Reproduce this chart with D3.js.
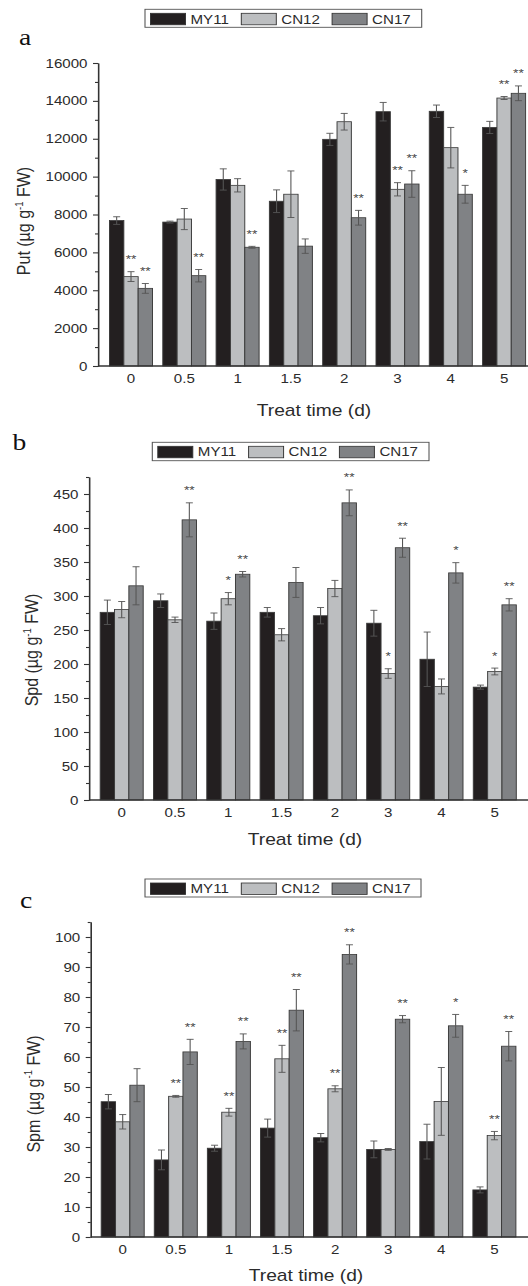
<!DOCTYPE html>
<html><head><meta charset="utf-8">
<script src="https://cdn.jsdelivr.net/npm/d3@7"></script>
<style>body{margin:0;background:#fff}svg{display:block}</style>
</head><body>
<svg id="chart" width="528" height="1286"></svg>
<script>
// ---------- data ----------
const categories = ["0", "0.5", "1", "1.5", "2", "3", "4", "5"];
const series = ["MY11", "CN12", "CN17"];

// Put (µg g-1 FW)
const putMY11 = [7680, 7600, 9850, 8700, 11970, 13430, 13450, 12600];
const putMY11Err = [200, 50, 560, 600, 320, 490, 330, 320];
const putCN12 = [4720, 7760, 9540, 9070, 12900, 9330, 11530, 14150];
const putCN12Err = [260, 560, 350, 1230, 440, 350, 1070, 80];
const putCN17 = [4100, 4770, 6270, 6330, 7830, 9610, 9070, 14400];
const putCN17Err = [260, 330, 50, 380, 390, 700, 470, 390];
const putCN12Sig = ["**", "", "", "", "", "**", "", "**"];
const putCN17Sig = ["**", "**", "**", "", "**", "**", "*", "**"];
const putTicks = [0, 2000, 4000, 6000, 8000, 10000, 12000, 14000, 16000];

// Spd (µg g-1 FW)
const spdMY11 = [276, 293, 263, 276, 271, 260, 207, 166];
const spdMY11Err = [18, 10, 12, 7, 12, 19, 40, 3];
const spdCN12 = [280, 265, 296, 243, 311, 186, 167, 189];
const spdCN12Err = [12, 4, 9, 9, 12, 7, 11, 5];
const spdCN17 = [315, 412, 332, 320, 437, 371, 334, 287];
const spdCN17Err = [28, 25, 4, 22, 19, 14, 15, 9];
const spdCN12Sig = ["", "", "*", "", "", "*", "", "*"];
const spdCN17Sig = ["", "**", "**", "", "**", "**", "*", "**"];
const spdTicks = [0, 50, 100, 150, 200, 250, 300, 350, 400, 450];

// Spm (µg g-1 FW)
const spmMY11 = [45.1, 25.7, 29.6, 36.3, 33.1, 29.2, 31.8, 15.7];
const spmMY11Err = [2.4, 3.3, 1.0, 3.0, 1.4, 2.8, 5.8, 1.0];
const spmCN12 = [38.4, 46.9, 41.6, 59.4, 49.4, 29.2, 45.2, 33.8];
const spmCN12Err = [2.4, 0.3, 1.3, 4.5, 1.0, 0.3, 11.3, 1.4];
const spmCN17 = [50.6, 61.7, 65.2, 75.6, 94.2, 72.6, 70.4, 63.6];
const spmCN17Err = [5.5, 4.2, 2.5, 6.9, 3.2, 1.2, 3.8, 4.9];
const spmCN12Sig = ["", "**", "**", "**", "**", "", "", "**"];
const spmCN17Sig = ["", "**", "**", "**", "**", "**", "*", "**"];
const spmTicks = [0, 10, 20, 30, 40, 50, 60, 70, 80, 90, 100];

const noSig = ["", "", "", "", "", "", "", ""];

// ---------- drawing ----------
const SX = 1.2;              // the original figure is stretched horizontally
const X = v => v / SX;       // pixel x -> design x
const FONT = "'Liberation Sans', Arial, sans-serif";
const TXT = "#2b2b2b";
const colors = { MY11: "#231f20", CN12: "#bcbec0", CN17: "#808285" };

const svg = d3.select("#chart");
const root = svg.append("g").attr("transform", `scale(${SX},1)`);

const panels = [
  {
    label: "a", labelX: 19, labelY: 45,
    yTitle: "Put", yTitleX: 24, yTitleY: 221,
    vals: [putMY11, putCN12, putCN17], errs: [putMY11Err, putCN12Err, putCN17Err],
    sigs: [noSig, putCN12Sig, putCN17Sig],
    ticks: putTicks, minorStep: 1000, yMax: 16000,
    axisX: 98, y0: 366, yTop: 63, firstCenter: 131, step: 53.3,
    xTitleX: 314, xTitleY: 416,
    legend: { x: 145, y: 9.3, w: 276.7, h: 18, base: 24 }
  },
  {
    label: "b", labelX: 12.5, labelY: 450,
    yTitle: "Spd", yTitleX: 32, yTitleY: 650,
    vals: [spdMY11, spdCN12, spdCN17], errs: [spdMY11Err, spdCN12Err, spdCN17Err],
    sigs: [noSig, spdCN12Sig, spdCN17Sig],
    ticks: spdTicks, minorStep: 25, yMax: 475,
    axisX: 89, y0: 800, yTop: 477, firstCenter: 121.7, step: 53.3,
    xTitleX: 305, xTitleY: 845,
    legend: { x: 152.3, y: 442.3, w: 276.7, h: 18.4, base: 456.5 }
  },
  {
    label: "c", labelX: 20, labelY: 908,
    yTitle: "Spm", yTitleX: 33.5, yTitleY: 1094,
    vals: [spmMY11, spmCN12, spmCN17], errs: [spmMY11Err, spmCN12Err, spmCN17Err],
    sigs: [noSig, spmCN12Sig, spmCN17Sig],
    ticks: spmTicks, minorStep: 5, yMax: 105,
    axisX: 90.7, y0: 1237, yTop: 922, firstCenter: 122.7, step: 53.1,
    xTitleX: 306, xTitleY: 1281,
    legend: { x: 145, y: 879, w: 276, h: 18, base: 893 }
  }
];

const groupW = 43;

panels.forEach(cfg => {
  const g = root.append("g");
  const y = d3.scaleLinear().domain([0, cfg.yMax]).range([cfg.y0, cfg.yTop]);
  const start = cfg.firstCenter - cfg.step / 2;
  const x0 = d3.scaleBand().domain(categories)
    .range([X(start), X(start + cfg.step * categories.length)]);
  const x1 = d3.scaleBand().domain(series)
    .range([X((cfg.step - groupW) / 2), X((cfg.step + groupW) / 2)]);

  const rows = [];
  categories.forEach((c, i) => {
    series.forEach((s, k) => {
      rows.push({ c, s, v: cfg.vals[k][i], e: cfg.errs[k][i], sig: cfg.sigs[k][i] });
    });
  });

  // bars
  g.append("g").selectAll("rect").data(rows).join("rect")
    .attr("x", d => x0(d.c) + x1(d.s))
    .attr("y", d => y(d.v))
    .attr("width", x1.bandwidth())
    .attr("height", d => y(0) - y(d.v))
    .attr("fill", d => colors[d.s])
    .attr("stroke", "#3a3a3a")
    .attr("stroke-width", 0.8);

  // error bars
  const eb = g.append("g").attr("stroke", "#555").attr("stroke-width", 0.9);
  const cx = d => x0(d.c) + x1(d.s) + x1.bandwidth() / 2;
  const capW = X(3.5);
  rows.forEach(d => {
    eb.append("line").attr("x1", cx(d)).attr("x2", cx(d))
      .attr("y1", y(d.v - d.e)).attr("y2", y(d.v + d.e));
    [d.v - d.e, d.v + d.e].forEach(t => {
      eb.append("line").attr("x1", cx(d) - capW).attr("x2", cx(d) + capW)
        .attr("y1", y(t)).attr("y2", y(t));
    });
  });

  // significance stars
  g.append("g").selectAll("text").data(rows.filter(d => d.sig)).join("text")
    .attr("x", cx)
    .attr("y", d => y(d.v + d.e) - 8.5)
    .attr("text-anchor", "middle")
    .attr("font-family", FONT).attr("font-size", 11.5).attr("fill", "#444")
    .text(d => d.sig);

  // y axis: minor ticks
  const minors = d3.range(0, cfg.yMax + 1e-9, cfg.minorStep)
    .filter(v => !cfg.ticks.some(t => Math.abs(t - v) < 1e-9));
  g.append("g").attr("transform", `translate(${X(cfg.axisX)},0)`)
    .call(d3.axisLeft(y).tickValues(minors).tickSize(X(3)).tickSizeOuter(0).tickFormat(""))
    .call(a => a.selectAll("line,path").attr("stroke", "#333").attr("stroke-width", 1.1));
  // y axis: major ticks
  g.append("g").attr("transform", `translate(${X(cfg.axisX)},0)`)
    .call(d3.axisLeft(y).tickValues(cfg.ticks).tickSize(X(5)).tickSizeOuter(0).tickPadding(X(5.5))
      .tickFormat(d3.format("d")))
    .call(a => a.selectAll("line,path").attr("stroke", "#333").attr("stroke-width", 1.1))
    .call(a => a.selectAll("text").attr("font-family", FONT).attr("font-size", 12.6).attr("fill", TXT));

  // x axis line
  g.append("line")
    .attr("x1", X(cfg.axisX)).attr("x2", X(560))
    .attr("y1", cfg.y0).attr("y2", cfg.y0)
    .attr("stroke", "#333").attr("stroke-width", 1.3);
  // x labels
  g.append("g").attr("transform", `translate(0,${cfg.y0})`)
    .call(d3.axisBottom(x0).tickSize(0).tickPadding(8.5))
    .call(a => a.select(".domain").remove())
    .call(a => a.selectAll("text").attr("font-family", FONT).attr("font-size", 12.6).attr("fill", TXT));

  // x title
  g.append("text")
    .attr("x", X(cfg.xTitleX)).attr("y", cfg.xTitleY)
    .attr("text-anchor", "middle")
    .attr("font-family", FONT).attr("font-size", 16).attr("fill", TXT)
    .text("Treat time (d)");

  // y title
  const yt = g.append("text")
    .attr("transform", `translate(${X(cfg.yTitleX + 6)},${cfg.yTitleY}) rotate(-90)`)
    .attr("text-anchor", "middle")
    .attr("font-family", FONT).attr("font-size", 16).attr("fill", TXT);
  yt.append("tspan").text(cfg.yTitle + " (\u00b5g g");
  yt.append("tspan").attr("dy", -6).attr("font-size", 9.5).text("-1");
  yt.append("tspan").attr("dy", 6).text(" FW)");

  // panel letter
  g.append("text")
    .attr("x", X(cfg.labelX)).attr("y", cfg.labelY)
    .attr("font-family", "'Liberation Serif', 'Times New Roman', serif")
    .attr("font-size", 23).attr("fill", "#111")
    .text(cfg.label);

  // legend
  const L = cfg.legend;
  const lg = g.append("g");
  lg.append("rect")
    .attr("x", X(L.x)).attr("y", L.y).attr("width", X(L.w)).attr("height", L.h)
    .attr("fill", "#fff").attr("stroke", "#555").attr("stroke-width", 0.9);
  series.forEach((s, i) => {
    const sx = L.x + 5.5 + i * 90.8;
    lg.append("rect")
      .attr("x", X(sx)).attr("y", L.y + 4).attr("width", X(35)).attr("height", 11.5)
      .attr("fill", colors[s]).attr("stroke", "#333").attr("stroke-width", 0.8);
    lg.append("text")
      .attr("x", X(sx + 40)).attr("y", L.base)
      .attr("font-family", FONT).attr("font-size", 12.6).attr("fill", TXT)
      .text(s);
  });
});
</script>
</body></html>
